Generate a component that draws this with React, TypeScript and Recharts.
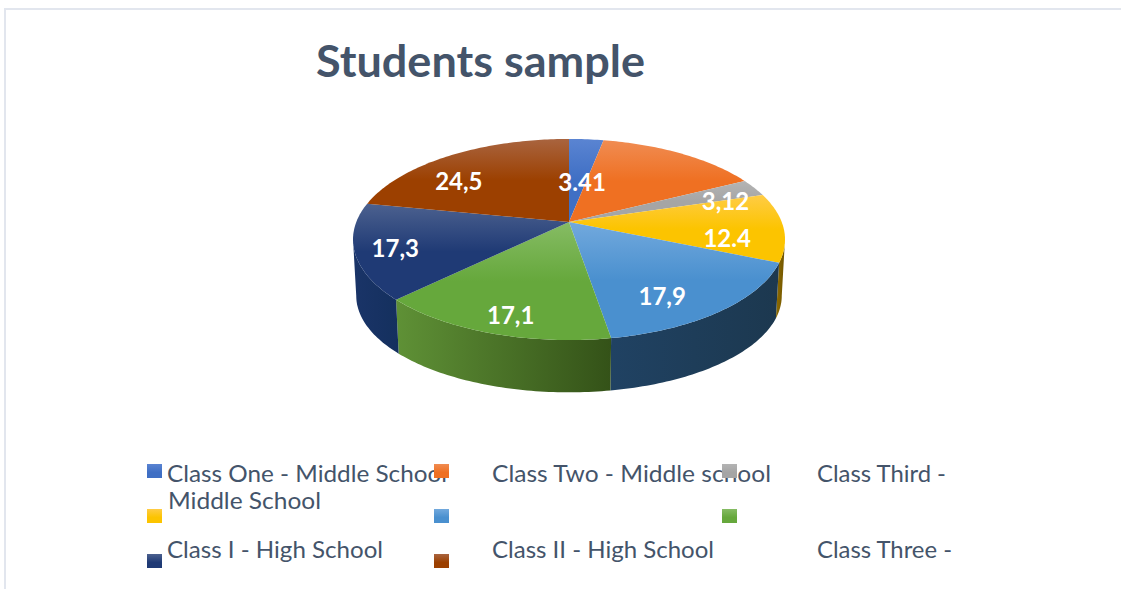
import React from 'react';
import { PieChart, Pie, Legend } from 'recharts';

const categories = ['Class One', 'Class Two', 'Class Third', 'Class Four', 'Class Five', 'Class Six', 'Class I', 'Class II'];
// second slice has no label in the picture, its size is read from the angle
const values = [3.41, 16.2, 3.12, 12.4, 17.9, 17.1, 17.3, 24.5];
const valueLabels = ['3.41', '', '3,12', '12.4', '17,9', '17,1', '17,3', '24,5'];

const baseColors = ['#3f6fc4', '#ef7022', '#a5a5a5', '#fcc400', '#4a90cf', '#66a83c', '#1f3a75', '#9c4000'];
const lightColors = ['#5a84d2', '#f08c52', '#b4b4b4', '#ffcc45', '#72a9dd', '#86bc64', '#4c618f', '#a9643f'];
const wallLeft = ['#2f5597', '#b85a1c', '#7c7c7c', '#8f6c00', '#204263', '#5f9136', '#1a3468', '#7a3300'];
const wallRight = ['#2f5597', '#b85a1c', '#7c7c7c', '#6f5400', '#1c384f', '#345218', '#14305e', '#7a3300'];

const labelTurn = [3, 0, 5, 9, 8, -2, -1, -11.5];
const labelReach = [0.45, 0, 0.8, 0.74, 0.77, 0.85, 0.82, 0.72];

const legendLines = [
  { text: 'Class One - Middle School', x: 167, y: 482, w: 280 },
  { text: 'Class Two - Middle school', x: 492, y: 482, w: 279 },
  { text: 'Class Third -', x: 817, y: 482, w: 129 },
  { text: 'Middle School', x: 168, y: 509, w: 153 },
  { text: 'Class I - High School', x: 167, y: 558, w: 216 },
  { text: 'Class II - High School', x: 492, y: 558, w: 222 },
  { text: 'Class Three -', x: 817, y: 558, w: 135 },
];
const markerCols = [147, 434, 722];
const markerRows = [464, 509, 554];

const tableData = categories.map((name, i) => ({ name, value: values[i], fill: baseColors[i] }));

// Tilted disc: unit circle -> screen with a simple perspective
const TILT = 0.174;
const project = (cx: number, cy: number, R: number, deg: number, reach = 1) => {
  const a = (deg * Math.PI) / 180;
  const u = Math.sin(a) * reach;
  const v = Math.cos(a) * reach;
  const s = 1 / (1 + TILT * v);
  return { x: cx + u * 2.127 * R * s, y: cy - v * 0.975 * R * s };
};
const dropWall = (p: { x: number; y: number }, cx: number, cy: number) => ({
  x: cx + (p.x - cx) * 0.985,
  y: cy + (p.y - cy) * 0.96 + 57,
});

const SliceShape = (props: any) => {
  const { cx, cy, outerRadius, startAngle, endAngle, fill } = props;
  const i = baseColors.indexOf(fill);
  const from = 90 - startAngle;
  const to = 90 - endAngle;
  const rim = [];
  for (let d = from; d < to; d += 1) rim.push(project(cx, cy, outerRadius, d));
  rim.push(project(cx, cy, outerRadius, to));
  const top = `M${cx},${cy} ` + rim.map((p) => `L${p.x},${p.y}`).join(' ') + ' Z';

  const wFrom = Math.max(from, 100);
  const wTo = Math.min(to, 260);
  let wall = '';
  if (wFrom < wTo) {
    const edge = [];
    for (let d = wFrom; d < wTo; d += 1) edge.push(project(cx, cy, outerRadius, d));
    edge.push(project(cx, cy, outerRadius, wTo));
    const low = edge.map((p) => dropWall(p, cx, cy)).reverse();
    wall = 'M' + edge.concat(low).map((p) => `${p.x},${p.y}`).join(' L') + ' Z';
  }
  return (
    <g>
      <defs>
        <linearGradient id={`top${i}`} x1="0" y1="0" x2="0" y2="1">
          <stop offset="0" stopColor={lightColors[i]} />
          <stop offset="0.5" stopColor={baseColors[i]} />
          <stop offset="1" stopColor={baseColors[i]} />
        </linearGradient>
        <linearGradient id={`wall${i}`} x1="0" y1="0" x2="1" y2="0">
          <stop offset="0" stopColor={wallLeft[i]} />
          <stop offset="1" stopColor={wallRight[i]} />
        </linearGradient>
      </defs>
      {wall && <path d={wall} fill={`url(#wall${i})`} />}
      <path d={top} fill={`url(#top${i})`} />
    </g>
  );
};

const SliceLabel = (props: any) => {
  const { cx, cy, outerRadius, midAngle, index } = props;
  if (!valueLabels[index]) return null;
  const p = project(cx, cy, outerRadius, 90 - midAngle + labelTurn[index], labelReach[index]);
  return (
    <text x={p.x} y={p.y} fill="#ffffff" fontFamily="Lato" fontWeight={700} fontSize={24} textAnchor="middle" dominantBaseline="central">
      {valueLabels[index]}
    </text>
  );
};

const LegendBlock = () => (
  <svg width={1121} height={589} style={{ display: 'block' }}>
    <defs>
      {baseColors.map((c, i) => (
        <linearGradient key={c} id={`mark${i}`} x1="0" y1="0" x2="0" y2="1">
          <stop offset="0" stopColor={lightColors[i]} />
          <stop offset="0.6" stopColor={c} />
        </linearGradient>
      ))}
    </defs>
    {legendLines.map((l) => (
      <text key={l.text} x={l.x} y={l.y} fontFamily="Lato" fontSize={24} fill="#44546a" textLength={l.w} lengthAdjust="spacingAndGlyphs">
        {l.text}
      </text>
    ))}
    {baseColors.map((c, i) => (
      <rect key={c} x={markerCols[i % 3]} y={markerRows[Math.floor(i / 3)]} width={15} height={14} fill={`url(#mark${i})`} />
    ))}
  </svg>
);

export default function App() {
  return (
    <div style={{ position: 'absolute', left: 0, top: 0, width: 1121, height: 589, overflow: 'hidden', background: '#fff' }}>
      <div style={{ position: 'absolute', left: 4, top: 8, width: 1200, height: 700, borderLeft: '2px solid #e2e6ee', borderTop: '2px solid #e2e6ee' }} />
      <svg width={1121} height={100} style={{ position: 'absolute', left: 0, top: 0 }}>
        <text x={316} y={77} fontFamily="Lato" fontWeight={700} fontSize={44} fill="#44546a" textLength={329} lengthAdjust="spacingAndGlyphs">
          Students sample
        </text>
      </svg>
      <div style={{ position: 'absolute', left: 0, top: 0 }}>
        <PieChart width={1121} height={589} margin={{ top: 0, right: 0, bottom: 0, left: 0 }}>
          <Pie
            data={tableData}
            dataKey="value"
            nameKey="name"
            cx={569}
            cy={222}
            outerRadius={100}
            startAngle={90}
            endAngle={-270}
            stroke="none"
            labelLine={false}
            label={SliceLabel}
            shape={SliceShape}
            isAnimationActive={false}
          />
          <Legend content={LegendBlock} wrapperStyle={{ position: 'absolute', left: 0, top: 0, width: 1121, height: 589 }} />
        </PieChart>
      </div>
    </div>
  );
}
